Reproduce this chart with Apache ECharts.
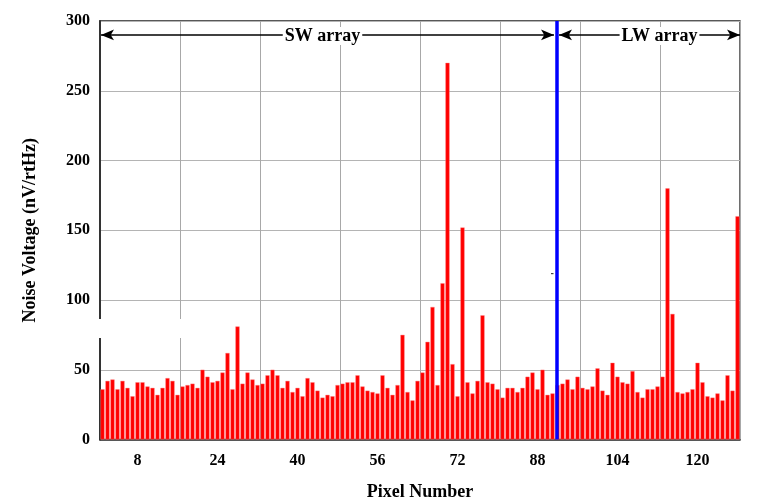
<!DOCTYPE html>
<html>
<head>
<meta charset="utf-8">
<script src="https://cdn.jsdelivr.net/npm/echarts@6/dist/echarts.min.js"></script>
<style>html,body{margin:0;padding:0;background:#fff}#c{width:761px;height:499px}</style>
</head>
<body>
<div id="c"></div>
<script>
// Pixel numbers 1..128
const pixels = [];
for (let i = 1; i <= 128; i++) pixels.push(String(i));

// Noise voltage per pixel (nV/rtHz)
const noise = [
  36,42,43,36,42,37,31,41,41,38,37,32,37,44,42,32,
  38,39,40,37,50,45,41,42,48,62,36,81,40,48,43,39,
  40,46,50,46,37,42,34,37,31,44,41,35,30,32,31,39,
  40,41,41,46,38,35,34,33,46,37,32,39,75,34,28,42,
  48,70,95,39,112,270,54,31,152,41,33,42,89,41,40,36,
  30,37,37,34,37,45,48,36,50,32,33,39,40,43,36,45,
  37,36,38,51,35,32,55,45,41,40,49,34,30,36,36,38,
  45,180,90,34,33,34,36,55,41,31,30,33,28,46,35,160
];

const yTicks = [0, 50, 100, 150, 200, 250, 300];
const xLabelPixels = ['8','24','40','56','72','88','104','120'];
const gridEveryPixels = 16;

// SW / LW boundary position (pixel axis units) and array span annotations
const boundary = 91.4;
const swSpan = [0.2, 90.8];
const lwSpan = [91.8, 128];
const spanLevel = 290;

const FONT = "'Liberation Serif','Times New Roman',serif";

const chart = echarts.init(document.getElementById('c'), null, {renderer: 'canvas'});

chart.setOption({
  animation: false,
  backgroundColor: '#fff',
  grid: {left: 100, top: 21, right: 21, bottom: 59.5, outerBoundsMode: 'none', containLabel: false, show: true, borderColor: '#222', borderWidth: 1.3, backgroundColor: 'transparent'},
  xAxis: [
    {
      type: 'category',
      data: pixels,
      boundaryGap: true,
      name: 'Pixel Number',
      nameLocation: 'middle',
      nameGap: 44,
      nameTextStyle: {fontFamily: FONT, fontWeight: 'bold', fontSize: 18, color: '#000'},
      axisLine: {show: true, lineStyle: {color: '#333', width: 1.5}},
      axisTick: {show: false},
      axisLabel: {
        interval: (i, v) => xLabelPixels.indexOf(v) >= 0,
        margin: 13,
        fontFamily: FONT, fontWeight: 'bold', fontSize: 16, color: '#000'
      },
      splitLine: {
        show: true,
        interval: (i) => i > 0 && i % gridEveryPixels === 0,
        lineStyle: {color: '#a8a8a8', width: 1}
      }
    },
    {
      type: 'value', min: 0, max: 128, show: false
    }
  ],
  yAxis: {
    type: 'value',
    min: yTicks[0], max: yTicks[yTicks.length - 1], interval: 50,
    name: 'Noise Voltage (nV/rtHz)',
    nameLocation: 'middle',
    nameGap: 61,
    nameTextStyle: {fontFamily: FONT, fontWeight: 'bold', fontSize: 18, color: '#000'},
    axisLine: {show: true, lineStyle: {color: '#333', width: 2}},
    axisTick: {show: false},
    axisLabel: {margin: 10, fontFamily: FONT, fontWeight: 'bold', fontSize: 16, color: '#000'},
    splitLine: {show: true, lineStyle: {color: '#b4b4b4', width: 1}}
  },
  series: [
    {
      type: 'bar',
      xAxisIndex: 0,
      data: noise,
      barCategoryGap: '18%',
      itemStyle: {color: '#ff0000', borderColor: '#ff8080', borderWidth: 0.4},
      z: 2
    },
    {
      type: 'line',
      xAxisIndex: 1,
      data: [[boundary, yTicks[0]], [boundary, yTicks[yTicks.length - 1]]],
      symbol: 'none',
      lineStyle: {color: '#0000ff', width: 3.5},
      z: 4,
      markLine: {
        silent: true,
        symbol: ['arrow', 'arrow'],
        symbolSize: [8, 13],
        lineStyle: {color: '#000', width: 1.6, type: 'solid'},
        label: {
          show: true, position: 'middle',
          fontFamily: FONT, fontWeight: 'bold', fontSize: 18, color: '#000',
          backgroundColor: '#fff', padding: [0, 2]
        },
        data: [
          [{coord: [swSpan[0], spanLevel], label: {formatter: 'SW array', offset: [-5, 15]}}, {coord: [swSpan[1], spanLevel]}],
          [{coord: [lwSpan[0], spanLevel], label: {formatter: 'LW array', offset: [10, 15]}}, {coord: [lwSpan[1], spanLevel]}]
        ]
      }
    }
  ],
  graphic: [
    {type: 'rect', shape: {x: 95, y: 319, width: 88, height: 19}, style: {fill: '#fff'}, z: 100},
    {type: 'rect', shape: {x: 551, y: 273, width: 2.5, height: 1.2}, style: {fill: '#444'}, z: 100}
  ]
});
</script>
</body>
</html>
